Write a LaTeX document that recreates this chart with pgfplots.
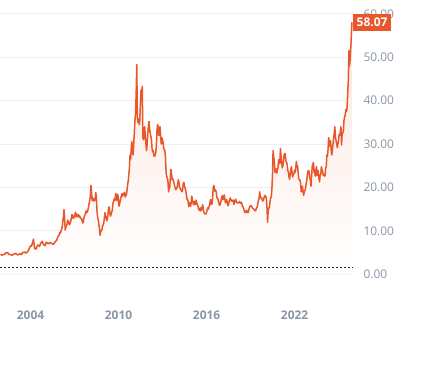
\documentclass[border=0pt]{standalone}
\usepackage{pgfplots}
\pgfplotsset{compat=1.18}
\usepackage{pgfplotstable}
\usepackage{fontspec}
\setmainfont{Open Sans}
\definecolor{lineC}{HTML}{E8562A}
\definecolor{tickC}{HTML}{8A96A8}
\definecolor{gridC}{HTML}{EFEFF2}
\definecolor{fillTop}{HTML}{FCE6DE}
\definecolor{dotC}{HTML}{1A2233}
\pgfplotstableread[row sep=\\]{
p\\
4.6\\4.55\\4.45\\4.4\\4.5\\4.6\\4.6\\4.55\\4.8\\4.95\\5.0\\4.9\\4.95\\4.8\\4.6\\4.55\\4.5\\4.55\\4.45\\4.4\\4.5\\4.55\\4.65\\4.75\\
4.8\\4.85\\4.65\\4.6\\4.5\\4.45\\4.6\\4.65\\4.75\\4.7\\4.55\\4.6\\4.95\\5.1\\5.0\\5.1\\5.15\\4.95\\4.9\\4.95\\5.2\\5.3\\5.55\\5.9\\
6.3\\6.4\\6.6\\6.5\\7.1\\7.5\\8.1\\7.0\\5.9\\6.1\\5.8\\6.0\\6.5\\6.7\\6.7\\6.6\\6.4\\6.9\\7.2\\7.3\\7.6\\7.5\\6.9\\6.8\\
6.7\\6.6\\7.0\\7.4\\7.3\\7.1\\7.2\\7.0\\7.1\\7.3\\7.3\\7.2\\7.1\\7.0\\6.9\\7.1\\7.1\\7.4\\7.6\\7.7\\7.8\\8.3\\8.6\\8.9\\
9.0\\9.6\\9.5\\9.9\\10.3\\10.9\\12.2\\13.2\\14.9\\12.8\\10.2\\10.9\\11.2\\11.5\\12.5\\12.3\\11.7\\11.4\\11.8\\12.2\\13.0\\13.8\\13.5\\12.9\\
13.0\\13.4\\13.9\\14.3\\13.2\\13.4\\13.7\\13.8\\13.2\\13.5\\13.3\\12.9\\12.9\\12.7\\12.1\\11.8\\12.6\\13.3\\13.6\\14.0\\14.6\\14.2\\14.3\\14.8\\
15.5\\16.3\\17.0\\18.0\\20.5\\19.0\\17.0\\17.6\\16.9\\17.3\\16.9\\17.5\\18.8\\17.6\\14.5\\13.2\\12.5\\11.5\\10.5\\9.0\\9.8\\10.2\\10.2\\11.2\\
11.3\\11.8\\13.0\\14.2\\13.0\\13.3\\12.3\\12.7\\14.0\\15.4\\15.5\\14.0\\13.4\\13.8\\14.3\\14.8\\16.3\\16.8\\17.3\\17.0\\17.8\\18.6\\17.2\\17.0\\
18.4\\17.2\\15.7\\16.2\\17.0\\17.6\\18.2\\18.6\\18.0\\18.6\\18.5\\18.9\\17.8\\18.2\\18.2\\19.3\\20.5\\21.5\\23.0\\24.5\\27.5\\26.5\\29.2\\30.6\\
28.2\\27.5\\30.0\\32.5\\35.5\\37.0\\41.5\\48.3\\36.0\\35.0\\35.8\\34.5\\35.5\\39.5\\42.5\\40.0\\43.3\\31.5\\31.0\\33.5\\34.0\\31.8\\30.0\\28.5\\
30.0\\32.5\\34.0\\35.2\\33.5\\32.5\\31.8\\31.0\\29.0\\28.2\\28.5\\27.2\\27.5\\27.3\\28.0\\29.5\\33.0\\34.5\\34.0\\32.0\\32.5\\34.0\\32.0\\30.0\\
31.5\\31.0\\30.5\\29.0\\28.7\\28.5\\27.0\\23.5\\22.5\\22.3\\21.5\\19.0\\19.8\\20.0\\22.5\\24.2\\23.0\\21.8\\22.0\\21.5\\21.0\\20.3\\19.8\\19.5\\
19.8\\20.0\\21.0\\21.8\\21.2\\20.0\\19.8\\19.5\\19.3\\19.0\\19.5\\20.8\\21.2\\20.5\\19.9\\19.3\\18.5\\17.4\\17.2\\16.8\\15.6\\16.2\\16.5\\15.7\\
16.5\\18.0\\17.2\\16.5\\16.0\\16.8\\16.5\\16.1\\17.1\\16.6\\16.0\\15.8\\15.2\\14.8\\14.7\\15.3\\14.6\\15.0\\15.6\\16.0\\14.8\\14.2\\14.0\\13.9\\
13.9\\14.2\\14.8\\15.3\\15.0\\15.6\\15.8\\16.9\\17.2\\16.1\\16.2\\17.5\\19.8\\20.5\\19.8\\19.1\\19.4\\19.0\\17.7\\17.5\\17.2\\16.7\\16.0\\15.9\\
16.4\\17.0\\17.8\\18.1\\17.2\\17.6\\18.3\\17.5\\16.5\\16.9\\17.2\\16.6\\15.8\\16.0\\16.8\\17.2\\17.6\\17.0\\17.1\\16.8\\17.0\\17.1\\16.1\\16.7\\
17.0\\17.3\\16.6\\16.5\\16.5\\16.4\\16.5\\16.8\\16.5\\16.4\\16.6\\16.2\\15.7\\15.5\\15.0\\14.6\\14.3\\14.2\\14.6\\14.7\\14.3\\14.2\\14.6\\15.3\\
15.6\\15.8\\15.8\\15.6\\15.3\\15.2\\15.1\\14.9\\14.7\\14.6\\14.9\\15.3\\15.5\\16.3\\17.0\\17.3\\19.0\\18.0\\17.6\\17.7\\17.3\\16.9\\17.0\\17.6\\
18.0\\18.2\\17.9\\17.5\\15.5\\12.0\\14.8\\15.2\\15.5\\16.8\\17.6\\17.8\\19.5\\22.8\\28.5\\27.0\\26.0\\23.5\\24.0\\24.3\\23.3\\24.0\\24.5\\26.3\\
26.5\\25.5\\29.0\\27.3\\25.8\\24.5\\25.0\\26.0\\27.5\\27.8\\27.7\\26.0\\25.8\\25.4\\24.0\\23.5\\22.5\\21.9\\23.0\\24.1\\24.8\\23.5\\22.4\\23.0\\
23.0\\24.0\\23.5\\24.2\\26.0\\25.0\\25.0\\23.5\\22.0\\21.8\\21.7\\21.0\\19.0\\19.6\\20.3\\19.0\\18.2\\19.0\\19.3\\19.8\\20.8\\21.5\\22.8\\23.8\\
23.9\\23.5\\22.2\\21.8\\20.3\\22.5\\25.0\\25.3\\25.8\\23.5\\24.0\\22.6\\24.0\\24.8\\22.8\\24.0\\23.6\\22.0\\21.3\\22.9\\23.0\\24.8\\24.0\\23.8\\
22.8\\22.9\\22.6\\22.8\\24.5\\24.8\\27.5\\27.2\\29.0\\31.5\\29.5\\29.8\\30.8\\28.5\\27.5\\28.6\\30.0\\31.5\\32.5\\34.0\\31.5\\30.8\\30.0\\29.2\\
30.0\\30.8\\32.2\\32.0\\32.8\\34.0\\29.8\\32.5\\32.5\\33.0\\35.5\\36.2\\36.8\\38.0\\37.5\\38.5\\41.5\\44.5\\51.5\\48.0\\49.5\\52.0\\55.0\\58.07\\
}\silver
\begin{document}
\begin{tikzpicture}
\useasboundingbox (0,0) rectangle (425bp,366bp);
\begin{axis}[
  at={(0,70bp)}, anchor=south west,
  scale only axis, width=353bp, height=296bp,
  xmin=2001.92, xmax=2025.98, ymin=-5, ymax=63.2,
  axis line style={draw=none},
  major tick length=0pt,
  xtick={2004,2010,2016,2022},
  xticklabels={2004,2010,2016,2022},
  x tick label style={font=\fontsize{12}{14}\selectfont\bfseries, text=tickC, yshift=-11bp},
  ytick={0,10,20,30,40,50,60},
  yticklabel pos=right,
  yticklabel style={font=\fontsize{12}{14}\selectfont, text=tickC, anchor=west, xshift=7bp},
  /pgf/number format/.cd, fixed, fixed zerofill, precision=2, assume math mode=true,
  /pgfplots/.cd,
  ymajorgrids, grid style={gridC, line width=0.9pt},
  clip=false,
]
\addplot[draw=none, top color=fillTop, bottom color=white, forget plot] table[x expr=2001.95+\coordindex/24, y index=0] {\silver} \closedcycle;
\addplot[dotC, dash pattern=on 2bp off 2bp, line width=1bp] coordinates {(2001.92,1.55) (2025.98,1.55)};
\addplot[lineC, line width=1.5pt, line join=round] table[x expr=2001.95+\coordindex/24, y index=0] {\silver};
\node[fill=lineC, text=white, font=\fontsize{12}{14}\selectfont\bfseries, anchor=west, inner xsep=3.5bp, inner ysep=2bp, minimum height=16.5bp] at (axis cs:2025.98,58.07) {58.07};
\end{axis}
\end{tikzpicture}
\end{document}
